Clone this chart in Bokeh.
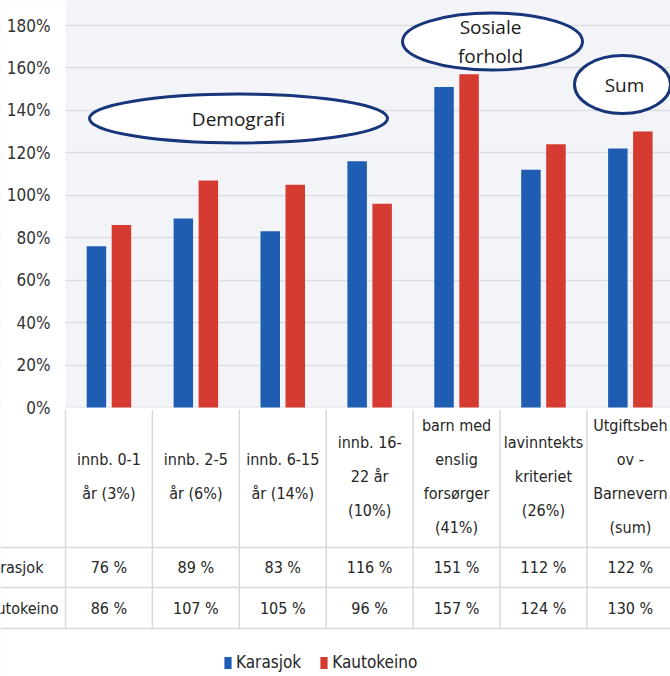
from bokeh.plotting import figure
from bokeh.models import Range1d, FixedTicker, Legend, LegendItem
from bokeh.core.properties import value
from bokeh.embed import file_html
from bokeh.resources import INLINE

# ---- data ----
categories = ["innb. 0-1\når (3%)", "innb. 2-5\når (6%)", "innb. 6-15\når (14%)",
              "innb. 16-\n22 år\n(10%)", "barn med\nenslig\nforsørger\n(41%)",
              "lavinntekts\nkriteriet\n(26%)", "Utgiftsbeh\nov -\nBarnevern\n(sum)"]
karasjok = [76, 89, 83, 116, 151, 112, 122]
kautokeino = [86, 107, 105, 96, 157, 124, 130]
series_names = ["Karasjok", "Kautokeino"]
y_ticks = [0, 20, 40, 60, 80, 100, 120, 140, 160, 180]
groups = ["Demografi", "Sosiale\nforhold", "Sum"]

BLUE = "#1f5db3"
RED = "#d63b32"
NARROW = "DejaVu Sans Condensed"
TXT = "#262626"

W, H = 670, 676
COLW = 86.9          # pixels per category column
PX = 382 / 180.0     # pixels per percent


def ex(px):  # reference pixel x -> data x
    return (px - 65) / COLW


def ey(py):  # reference pixel y -> data y
    return (407 - py) / PX


x_start, x_end = ex(0), ex(W)
y_top, y_bot = ey(0), ey(H)

p = figure(width=W, height=H, output_backend="svg", toolbar_location=None,
           x_range=Range1d(x_start, x_end), y_range=Range1d(y_bot, y_top),
           x_axis_location=None, min_border_left=0, min_border_right=0,
           min_border_top=0, min_border_bottom=0)
p.background_fill_color = "#f3f4f7"
p.border_fill_color = "white"
p.outline_line_color = None

# y axis drawn at x = 0 inside the frame
p.yaxis.fixed_location = 0
p.yaxis.ticker = FixedTicker(ticks=y_ticks)
p.yaxis.major_label_overrides = {t: f"{t}%" for t in y_ticks}
p.yaxis.axis_line_color = None
p.yaxis.major_tick_line_color = None
p.yaxis.major_tick_out = 0
p.yaxis.major_tick_in = 0
p.yaxis.minor_tick_line_color = None
p.yaxis.major_label_standoff = 15
p.yaxis.major_label_text_font = NARROW
p.yaxis.major_label_text_font_size = "17px"
p.yaxis.major_label_text_color = "#333333"
p.ygrid.ticker = FixedTicker(ticks=y_ticks)
p.ygrid.grid_line_color = "#dcdde2"
p.ygrid.grid_line_width = 1.5
p.xgrid.visible = False

# white areas: left of plot and table area
p.quad(left=[x_start, 0], right=[0, x_end], bottom=[y_bot, y_bot], top=[y_top, 0],
       fill_color="white", line_color=None)

# bars
xc = [i + 0.5 for i in range(len(categories))]
off = 12.5 / COLW
bw = 19.5 / COLW
r1 = p.vbar(x=[v - off for v in xc], top=karasjok, width=bw, fill_color=BLUE, line_color=None)
r2 = p.vbar(x=[v + off for v in xc], top=kautokeino, width=bw, fill_color=RED, line_color=None)

# table lines
row1, row2, row3 = ey(547), ey(587), ey(628)
grid_col = "#d9d9d9"
p.segment(x0=list(range(8)), x1=list(range(8)), y0=[-1.2] * 8, y1=[row3] * 8,
          line_color=grid_col, line_width=1.5)
p.segment(x0=[x_start] * 3, x1=[x_end] * 3, y0=[row1, row2, row3], y1=[row1, row2, row3],
          line_color=grid_col, line_width=1.5)

# header text
p.text(x=xc, y=[ey(476)] * len(xc), text=categories, text_font=value(NARROW),
       text_font_size="16px", text_align="center", text_baseline="middle",
       text_line_height=1.8, text_color=TXT)
# row values
ky, ay = ey(567), ey(608)
p.text(x=xc, y=[ky] * len(xc), text=[f"{v} %" for v in karasjok], text_font=value(NARROW),
       text_font_size="16px", text_align="center", text_baseline="middle", text_color=TXT)
p.text(x=xc, y=[ay] * len(xc), text=[f"{v} %" for v in kautokeino], text_font=value(NARROW),
       text_font_size="16px", text_align="center", text_baseline="middle", text_color=TXT)
# row labels (partly cut by the left edge, as in the source)
p.text(x=[ex(43), ex(58)], y=[ky, ay], text=series_names, text_font=value(NARROW),
       text_font_size="16px", text_align="right", text_baseline="middle", text_color=TXT)

# group ellipses
ell_x = [ex(238), ex(492), ex(622)]
ell_y = [ey(118), ey(41), ey(84)]
ell_w = [298 / COLW, 180 / COLW, 96 / COLW]
ell_h = [49 / PX, 57 / PX, 58 / PX]
p.ellipse(x=ell_x, y=ell_y, width=ell_w, height=ell_h, fill_color="white",
          line_color="#17357a", line_width=3)
p.text(x=[ex(238), ex(490), ex(624)], y=[ey(118), ey(41), ey(84)], text=groups,
       text_font=value("Open Sans"), text_font_size="19px", text_align="center",
       text_baseline="middle", text_line_height=1.12, text_color="#1a1a1a")

# legend
legend = Legend(items=[LegendItem(label=series_names[0], renderers=[r1]),
                       LegendItem(label=series_names[1], renderers=[r2])],
                orientation="horizontal", location=(223, 4),
                glyph_width=9, glyph_height=15, label_standoff=4, spacing=18,
                padding=0, margin=0, border_line_color=None, background_fill_alpha=0,
                label_text_font=NARROW, label_text_font_size="17px",
                label_text_color=TXT, label_height=20)
p.add_layout(legend)

open("out.html", "w").write(file_html(p, INLINE))
